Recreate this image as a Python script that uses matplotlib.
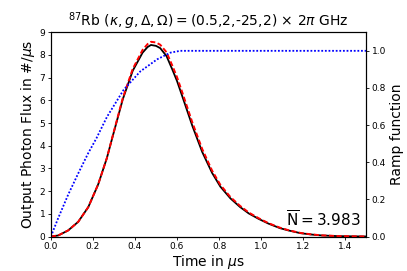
import matplotlib
matplotlib.use("Agg")
import matplotlib.pyplot as plt

# time axis (microseconds) for the photon flux curves
t_flux = [0.0, 0.035, 0.082, 0.13, 0.178, 0.225, 0.266, 0.295, 0.342, 0.389,
          0.436, 0.46, 0.476, 0.5, 0.52, 0.55, 0.578, 0.6, 0.626, 0.673,
          0.72, 0.767, 0.806, 0.854, 0.9, 0.941, 0.988, 1.035, 1.09, 1.13,
          1.187, 1.24, 1.287, 1.366, 1.44, 1.5]
flux_black = [0.0, 0.05, 0.27, 0.65, 1.3, 2.3, 3.45, 4.45, 6.05, 7.3,
              8.1, 8.35, 8.44, 8.4, 8.3, 7.95, 7.35, 6.85, 6.15, 4.87,
              3.72, 2.8, 2.2, 1.68, 1.3, 1.02, 0.78, 0.57, 0.37, 0.27,
              0.15, 0.09, 0.05, 0.02, 0.01, 0.005]
flux_red = [0.0, 0.05, 0.27, 0.65, 1.3, 2.3, 3.45, 4.47, 6.1, 7.38,
            8.22, 8.48, 8.58, 8.55, 8.45, 8.12, 7.52, 7.02, 6.32, 5.02,
            3.85, 2.9, 2.28, 1.74, 1.35, 1.06, 0.81, 0.59, 0.39, 0.28,
            0.16, 0.095, 0.055, 0.022, 0.011, 0.005]

# ramp function
t_ramp = [0.0, 0.035, 0.082, 0.13, 0.178, 0.217, 0.267, 0.346, 0.425, 0.505,
          0.568, 0.615, 1.0, 1.5]
ramp = [0.0, 0.1, 0.225, 0.34, 0.45, 0.53, 0.645, 0.79, 0.889, 0.954,
        0.99, 1.0, 1.0, 1.0]

x_ticks = [0.0, 0.2, 0.4, 0.6, 0.8, 1.0, 1.2, 1.4]
y_ticks = [0, 1, 2, 3, 4, 5, 6, 7, 8, 9]
r_ticks = [0.0, 0.2, 0.4, 0.6, 0.8, 1.0]
n_bar = 3.983

fig = plt.figure(figsize=(4.07, 2.71), dpi=100)
ax = fig.add_axes([0.125, 0.127, 0.775, 0.754])
ax2 = ax.twinx()

ax.plot(t_flux, flux_black, color="black", lw=1.3, zorder=3)
ax.plot(t_flux, flux_red, color="red", lw=1.4, ls=(0, (2.6, 1.3)), zorder=4)
ax2.plot(t_ramp, ramp, color="blue", lw=1.3, ls=(0, (1, 1)))

ax.set_xlim(0, 1.5)
ax.set_ylim(0, 9)
ax2.set_ylim(0, 1.1)
ax.set_xticks(x_ticks)
ax.set_yticks(y_ticks)
ax2.set_yticks(r_ticks)
ax.set_xticklabels([f"{v:.1f}" for v in x_ticks])
ax2.set_yticklabels([f"{v:.1f}" for v in r_ticks])

for a in (ax, ax2):
    a.tick_params(labelsize=6.5, length=2.5, width=0.6, pad=1.5)

ax.set_xlabel(r"Time in $\mu$s", fontsize=10, labelpad=1)
ax.set_ylabel(r"Output Photon Flux in #/$\mu$s", fontsize=10, labelpad=2)
ax2.set_ylabel("Ramp function", fontsize=10, labelpad=3)
ax.set_title(r"$^{87}$Rb $(\kappa,g,\Delta,\Omega) = $(0.5,2,-25,2) $\times\ 2\pi$ GHz",
             fontsize=10, pad=3)
ax.text(1.473, 0.44, r"$\overline{\mathrm{N}} = " + f"{n_bar:.3f}" + "$", fontsize=11,
        ha="right", va="baseline")

fig.savefig("out.png", dpi=100)
